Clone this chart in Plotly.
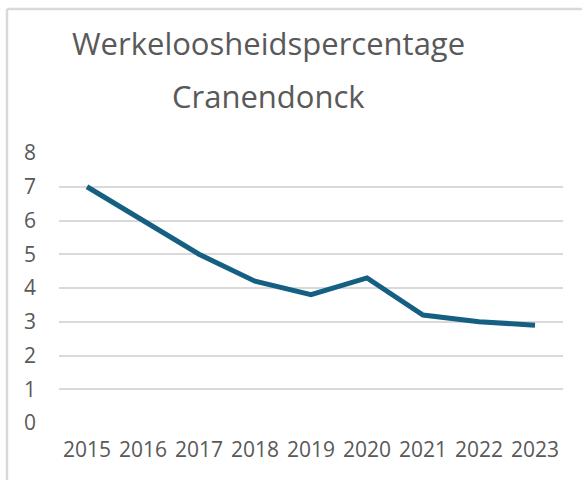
import plotly.graph_objects as go

years = ["2015", "2016", "2017", "2018", "2019", "2020", "2021", "2022", "2023"]
werkloosheid = [7.0, 6.0, 5.0, 4.2, 3.8, 4.3, 3.2, 3.0, 2.9]
title_lines = ["Werkeloosheidspercentage", "Cranendonck"]

W, H = 582, 480
L, R, T, B = 59, 19, 153, 57
PW, PH = W - L - R, H - T - B

def px_x(px):
    return (px - L) / PW

def px_y(py):
    return (H - B - py) / PH

txt = "#595959"
font_family = "Open Sans, Liberation Sans, sans-serif"

fig = go.Figure()
fig.add_trace(go.Scatter(
    x=years, y=werkloosheid, mode="lines",
    line=dict(color="#156082", width=5),
    showlegend=False, hoverinfo="x+y",
))

fig.update_layout(
    width=W, height=H,
    margin=dict(l=L, r=R, t=T, b=B),
    paper_bgcolor="white", plot_bgcolor="white",
    font=dict(family=font_family, color=txt, size=21),
    xaxis=dict(type="category", range=[-0.5, 8.5], showgrid=False, zeroline=False,
               showline=False, ticks="", tickfont=dict(size=21, color=txt),
               ticklabelstandoff=12),
    yaxis=dict(range=[0, 8], dtick=1, showgrid=True, gridcolor="#D9D9D9", gridwidth=1.5,
               zeroline=False, showline=False, ticks="", tickfont=dict(size=21, color=txt),
               ticklabelstandoff=22),
    shapes=[
        dict(type="line", xref="paper", yref="paper", x0=px_x(7), x1=px_x(W + 5),
             y0=px_y(9), y1=px_y(9), line=dict(color="#D9D9D9", width=2.5)),
        dict(type="line", xref="paper", yref="paper", x0=px_x(7), x1=px_x(7),
             y0=px_y(9), y1=px_y(H + 5), line=dict(color="#D9D9D9", width=2.5)),
    ],
    annotations=[
        dict(text=title_lines[0], xref="paper", yref="paper", x=px_x(268), y=px_y(43),
             xanchor="center", yanchor="middle", showarrow=False,
             font=dict(size=31, color=txt, family=font_family)),
        dict(text=title_lines[1], xref="paper", yref="paper", x=px_x(268), y=px_y(96),
             xanchor="center", yanchor="middle", showarrow=False,
             font=dict(size=31, color=txt, family=font_family)),
    ],
)

fig.write_html("out.html", config={"displayModeBar": False},
               post_script="document.body.style.margin='0';")
